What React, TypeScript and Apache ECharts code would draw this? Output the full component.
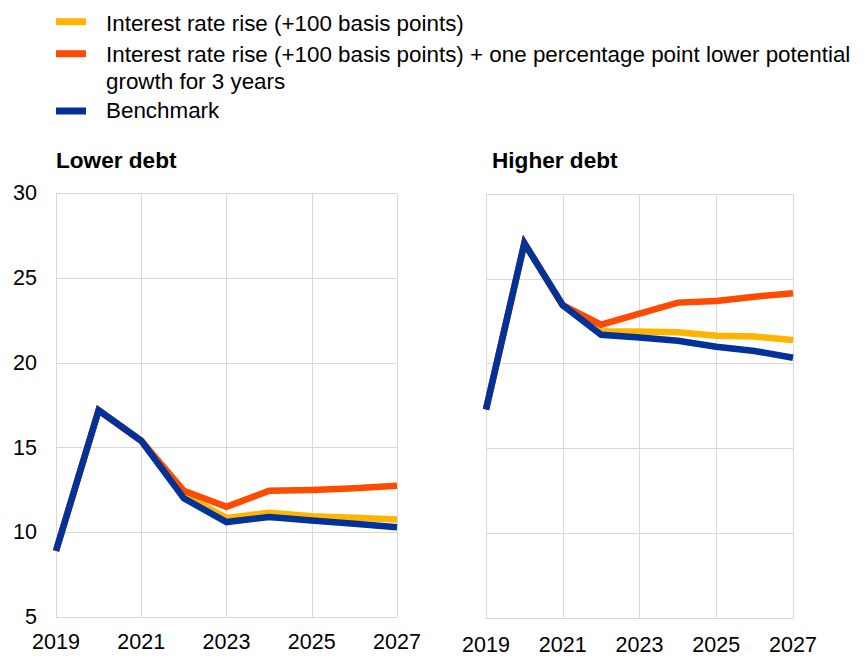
import React, { useEffect, useRef } from "react";
import * as echarts from "echarts";

const years = ["2019", "2020", "2021", "2022", "2023", "2024", "2025", "2026", "2027"];
const yTicks = { min: 5, max: 30, interval: 5 };

const seriesNames = [
  "Interest rate rise (+100 basis points)",
  "Interest rate rise (+100 basis points) + one percentage point lower potential\ngrowth for 3 years",
  "Benchmark",
];
const seriesColors = ["#FFB400", "#FF4B00", "#003299"];

const panelTitles = ["Lower debt", "Higher debt"];

const lowerRate = [8.9, 17.2, 15.4, 12.2, 10.85, 11.15, 10.95, 10.85, 10.75];
const lowerRateGrowth = [8.9, 17.2, 15.4, 12.45, 11.5, 12.45, 12.5, 12.6, 12.75];
const lowerBenchmark = [8.9, 17.2, 15.4, 12.0, 10.6, 10.9, 10.7, 10.5, 10.3];

const higherRate = [17.3, 27.1, 23.45, 21.9, 21.9, 21.85, 21.65, 21.6, 21.4];
const higherRateGrowth = [17.3, 27.1, 23.45, 22.3, 22.95, 23.6, 23.7, 23.95, 24.15];
const higherBenchmark = [17.3, 27.1, 23.45, 21.7, 21.55, 21.35, 21.0, 20.75, 20.35];

const FONT = "Liberation Sans, Arial, sans-serif";
const GRID_COLOR = "#d9d9d9";

export default function App() {
  const ref = useRef<HTMLDivElement>(null);

  useEffect(() => {
    if (!ref.current) return;
    const chart = echarts.init(ref.current, null, { renderer: "svg" });

    const panels = [
      [lowerRate, lowerRateGrowth, lowerBenchmark],
      [higherRate, higherRateGrowth, higherBenchmark],
    ];

    const series: any[] = [];
    panels.forEach((p, gi) => {
      p.forEach((data, si) => {
        series.push({
          type: "line",
          name: seriesNames[si],
          xAxisIndex: gi,
          yAxisIndex: gi,
          data,
          showSymbol: false,
          symbol: "none",
          clip: false,
          z: 2 + si,
          lineStyle: { color: seriesColors[si], width: 6.5, join: "miter", cap: "butt" },
          itemStyle: { color: seriesColors[si] },
        });
      });
    });

    const legendCenters = [23.3, 54.3, 110.6];
    const swatchCenters = [21.7, 53.7, 111];
    const legendGraphics: any[] = [];
    seriesNames.forEach((name, i) => {
      legendGraphics.push({
        type: "rect",
        left: 56,
        top: swatchCenters[i] - 3.5,
        shape: { width: 30, height: 7 },
        style: { fill: seriesColors[i] },
      });
      legendGraphics.push({
        type: "text",
        x: 106,
        y: legendCenters[i] - 13.5,
        style: {
          text: name,
          fill: "#000",
          fontSize: 22.4,
          fontFamily: FONT,
          lineHeight: 27,
          verticalAlign: "top",
          align: "left",
        },
      });
    });

    const titleX = [56, 492];
    panelTitles.forEach((t, i) => {
      legendGraphics.push({
        type: "text",
        x: titleX[i],
        y: 160.8,
        style: {
          text: t,
          fill: "#000",
          fontSize: 22.6,
          fontWeight: "bold",
          fontFamily: FONT,
          verticalAlign: "middle",
          align: "left",
        },
      });
    });

    const grids = [
      { left: 56, top: 193.3, width: 341, height: 423.7 },
      { left: 486, top: 194, width: 307, height: 424.3 },
    ];

    chart.setOption({
      animation: false,
      backgroundColor: "#ffffff",
      textStyle: { fontFamily: FONT },
      grid: grids.map((g) => ({ ...g, containLabel: false, outerBoundsMode: "none" })),
      xAxis: [0, 1].map((i) => ({
        type: "category",
        gridIndex: i,
        data: years,
        boundaryGap: false,
        axisLine: { show: true, lineStyle: { color: GRID_COLOR, width: 1 } },
        axisTick: { show: false },
        axisLabel: {
          interval: 1,
          color: "#000",
          fontSize: 21.5,
          fontFamily: FONT,
          margin: i === 0 ? 14 : 16,
        },
        splitLine: { show: true, interval: 1, lineStyle: { color: GRID_COLOR, width: 1 } },
      })),
      yAxis: [0, 1].map((i) => ({
        type: "value",
        gridIndex: i,
        min: yTicks.min,
        max: yTicks.max,
        interval: yTicks.interval,
        axisLine: { show: true, lineStyle: { color: GRID_COLOR, width: 1 } },
        axisTick: { show: false },
        axisLabel: {
          show: i === 0,
          color: "#000",
          fontSize: 21.5,
          fontFamily: FONT,
          margin: 19,
        },
        splitLine: { show: true, lineStyle: { color: GRID_COLOR, width: 1 } },
      })),
      graphic: legendGraphics,
      series,
    });

    return () => chart.dispose();
  }, []);

  return (
    <div
      ref={ref}
      style={{ position: "fixed", left: 0, top: 0, width: 865, height: 667, background: "#fff" }}
    />
  );
}
